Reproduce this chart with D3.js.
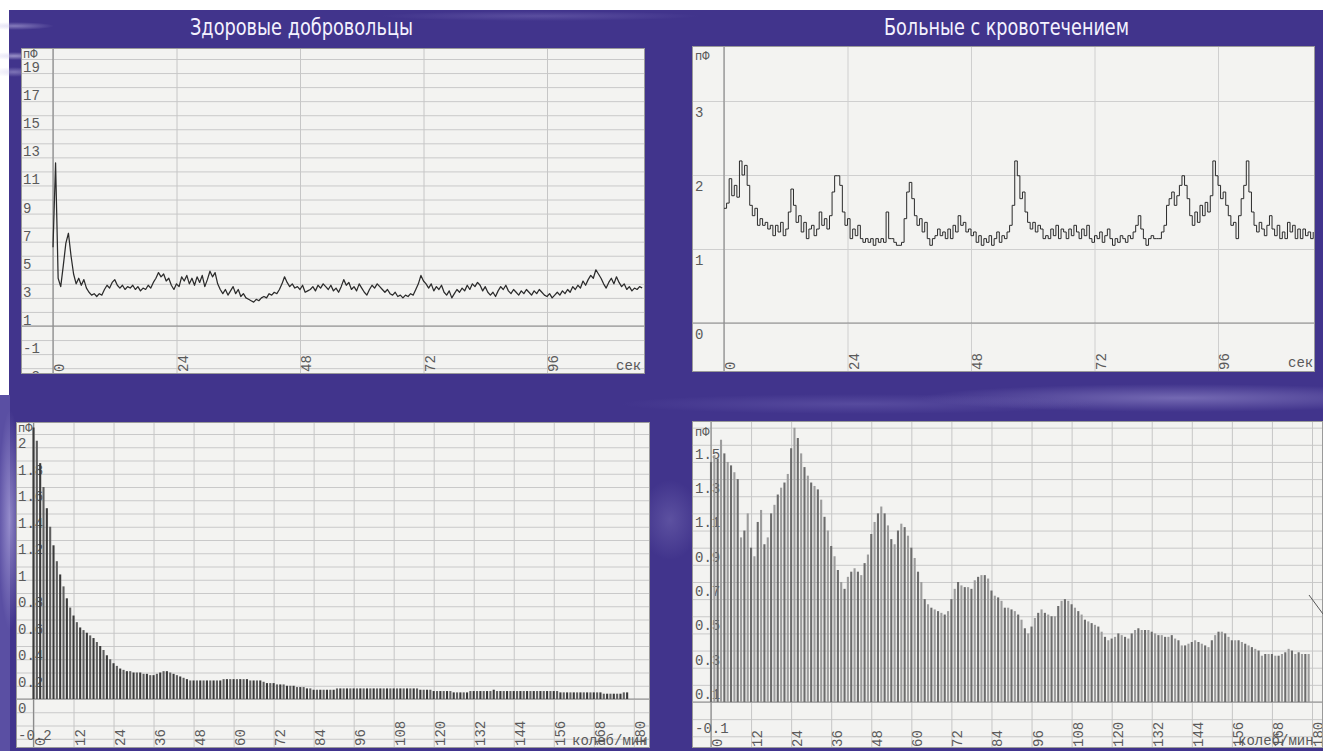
<!DOCTYPE html>
<html><head><meta charset="utf-8">
<script src="https://cdn.jsdelivr.net/npm/d3@7"></script>
<style>body{margin:0;background:#fff;overflow:hidden}svg{display:block}</style>
</head><body><svg id="c" width="1323" height="751"></svg>
<script>
// ---------------- DATA ----------------
const titles = ["Здоровые добровольцы", "Больные с кровотечением"];
const timeUnit = "сек";
const freqUnit = "колеб/мин";
const yUnit = "пФ";
const timeTicks = [0, 24, 48, 72, 96];
const freqTicks = [0, 12, 24, 36, 48, 60, 72, 84, 96, 108, 120, 132, 144, 156, 168, 180];
const healthyTraceTicks = [19, 17, 15, 13, 11, 9, 7, 5, 3, 1, -1, -3];
const patientTraceTicks = [3, 2, 1, 0];
const healthySpecTicks = [2, 1.8, 1.6, 1.4, 1.2, 1, 0.8, 0.6, 0.4, 0.2, 0, -0.2];
const patientSpecTicks = [1.5, 1.3, 1.1, 0.9, 0.7, 0.5, 0.3, 0.1, -0.1];

// time series, one value every 0.5 s
const traceStep = 0.5;
const healthyTrace = [
 5.6,11.6,3.4,2.8,4.3,5.9,6.6,5.0,3.7,3.0,
 3.4,2.9,3.3,2.7,2.4,2.2,2.3,2.1,2.3,2.2,
 2.6,2.9,2.7,3.1,3.3,2.9,2.7,2.9,2.6,2.8,
 2.7,2.9,2.6,2.8,2.5,2.7,2.6,2.9,2.7,3.1,
 3.4,3.8,3.5,3.7,3.2,3.4,2.9,2.6,3.0,2.8,
 3.5,3.2,3.6,3.0,3.4,2.9,3.5,3.1,3.6,2.8,
 3.3,3.9,3.5,3.8,3.0,2.6,2.3,2.6,2.2,2.5,
 2.8,2.3,2.6,2.1,2.3,2.0,1.9,1.8,1.7,1.9,
 1.8,2.0,2.1,2.0,2.3,2.2,2.4,2.3,2.6,3.0,
 3.5,3.1,2.8,3.0,2.7,2.8,2.6,2.9,2.4,2.5,
 2.6,2.8,2.5,2.9,2.7,3.0,2.8,2.6,2.9,2.5,
 2.7,2.4,2.8,3.3,2.9,3.1,2.6,2.8,2.5,3.0,
 2.7,2.4,2.2,2.6,2.9,2.7,3.0,2.8,2.6,2.4,
 2.6,2.3,2.2,2.4,2.1,2.2,2.0,2.2,2.1,2.3,
 2.2,2.6,3.0,3.6,3.2,3.0,2.7,3.0,2.5,2.8,
 2.6,2.9,2.4,2.2,2.5,2.0,2.3,2.6,2.4,2.7,
 2.5,2.9,2.6,3.0,2.8,3.1,2.9,2.5,2.8,2.4,
 2.2,2.4,2.1,2.5,2.8,2.6,2.9,2.5,2.3,2.6,
 2.4,2.2,2.5,2.3,2.6,2.4,2.2,2.5,2.3,2.6,
 2.4,2.2,2.1,2.3,2.0,2.2,2.4,2.2,2.5,2.3,
 2.6,2.4,2.8,2.6,2.9,2.7,3.2,2.9,3.3,3.6,
 3.4,4.0,3.7,3.4,3.0,2.7,3.1,3.4,3.0,3.5,
 3.1,2.8,3.0,2.6,2.8,2.5,2.7,2.6,2.8,2.7
];
const patientTrace = [
 1.55,1.62,1.95,1.72,1.86,1.70,2.19,2.00,2.13,1.86,
 1.59,1.45,1.55,1.32,1.41,1.32,1.36,1.27,1.32,1.18,
 1.32,1.23,1.36,1.18,1.27,1.50,1.81,1.59,1.36,1.45,
 1.23,1.36,1.14,1.27,1.32,1.18,1.27,1.50,1.32,1.41,
 1.27,1.45,1.77,1.99,1.99,1.86,1.50,1.32,1.41,1.14,
 1.27,1.18,1.32,1.14,1.09,1.14,1.09,1.14,1.05,1.14,
 1.09,1.14,1.09,1.50,1.14,1.14,1.09,1.05,1.05,1.09,
 1.41,1.77,1.90,1.68,1.45,1.32,1.41,1.23,1.36,1.14,
 1.05,1.14,1.18,1.27,1.18,1.23,1.14,1.27,1.14,1.32,
 1.23,1.45,1.32,1.36,1.23,1.27,1.18,1.23,1.09,1.18,
 1.05,1.14,1.09,1.18,1.05,1.14,1.23,1.09,1.18,1.14,
 1.23,1.32,1.59,2.19,1.99,1.68,1.77,1.50,1.36,1.27,
 1.36,1.23,1.32,1.27,1.14,1.18,1.14,1.27,1.18,1.32,
 1.14,1.27,1.23,1.14,1.27,1.18,1.32,1.23,1.14,1.27,
 1.18,1.32,1.14,1.09,1.18,1.14,1.23,1.09,1.18,1.27,
 1.14,1.05,1.14,1.09,1.18,1.14,1.09,1.18,1.14,1.23,
 1.32,1.45,1.27,1.14,1.05,1.14,1.18,1.14,1.14,1.14,
 1.23,1.32,1.59,1.68,1.77,1.59,1.72,1.86,1.99,1.86,
 1.68,1.45,1.32,1.50,1.36,1.59,1.45,1.63,1.50,1.72,
 2.19,1.99,1.86,1.68,1.77,1.59,1.45,1.32,1.36,1.14,
 1.45,1.68,1.86,2.19,1.77,1.50,1.32,1.23,1.36,1.27,
 1.18,1.32,1.45,1.27,1.18,1.32,1.14,1.23,1.14,1.36,
 1.23,1.32,1.14,1.27,1.14,1.27,1.18,1.23,1.14,1.23
];

// spectra, one value per 1 колеб/мин
const specStep = 1;
const healthySpectrum = [
 2.05,1.95,1.78,1.60,1.44,1.30,1.16,1.04,0.94,0.85,
 0.76,0.69,0.63,0.58,0.54,0.52,0.50,0.48,0.46,0.43,
 0.40,0.37,0.33,0.30,0.27,0.25,0.23,0.22,0.21,0.21,
 0.20,0.20,0.20,0.19,0.19,0.18,0.18,0.19,0.20,0.21,
 0.21,0.20,0.19,0.18,0.17,0.16,0.15,0.14,0.14,0.14,
 0.14,0.14,0.14,0.14,0.14,0.14,0.14,0.15,0.15,0.15,
 0.15,0.15,0.15,0.15,0.15,0.14,0.14,0.14,0.14,0.13,
 0.12,0.12,0.12,0.11,0.11,0.11,0.10,0.10,0.10,0.09,
 0.09,0.09,0.08,0.08,0.07,0.07,0.07,0.07,0.07,0.07,
 0.07,0.08,0.08,0.08,0.08,0.08,0.08,0.08,0.08,0.08,
 0.08,0.08,0.08,0.08,0.08,0.08,0.08,0.08,0.08,0.08,
 0.08,0.08,0.08,0.08,0.08,0.08,0.07,0.07,0.07,0.07,
 0.06,0.06,0.06,0.06,0.06,0.06,0.05,0.05,0.05,0.05,
 0.05,0.06,0.06,0.06,0.06,0.06,0.06,0.06,0.07,0.06,
 0.06,0.06,0.06,0.06,0.06,0.06,0.06,0.06,0.06,0.06,
 0.06,0.06,0.06,0.06,0.06,0.06,0.06,0.06,0.05,0.05,
 0.05,0.05,0.05,0.05,0.05,0.05,0.05,0.05,0.05,0.05,
 0.05,0.04,0.04,0.04,0.04,0.04,0.04,0.05,0.05
];
const patientSpectrum = [
 1.40,1.44,1.42,1.53,1.45,1.40,1.38,1.34,1.30,0.96,
 1.00,1.10,0.90,0.85,1.05,1.12,0.92,0.96,1.10,1.15,
 1.21,1.25,1.28,1.33,1.48,1.60,1.54,1.45,1.37,1.32,
 1.28,1.26,1.24,1.18,1.08,1.00,0.91,0.85,0.77,0.70,
 0.66,0.73,0.76,0.78,0.76,0.74,0.81,0.86,0.98,1.05,
 1.10,1.14,1.10,1.03,0.95,0.92,1.00,1.04,1.02,0.97,
 0.90,0.84,0.76,0.70,0.60,0.57,0.55,0.54,0.53,0.52,
 0.51,0.53,0.60,0.66,0.70,0.68,0.67,0.67,0.66,0.71,
 0.73,0.74,0.74,0.72,0.65,0.62,0.61,0.59,0.55,0.55,
 0.54,0.53,0.51,0.48,0.43,0.40,0.44,0.49,0.52,0.54,
 0.52,0.51,0.50,0.50,0.56,0.59,0.60,0.59,0.57,0.55,
 0.53,0.51,0.48,0.47,0.46,0.45,0.44,0.41,0.38,0.36,
 0.37,0.38,0.40,0.39,0.38,0.37,0.40,0.42,0.43,0.42,
 0.42,0.42,0.41,0.40,0.39,0.39,0.38,0.38,0.39,0.37,
 0.36,0.33,0.33,0.34,0.35,0.36,0.35,0.34,0.33,0.32,
 0.36,0.39,0.41,0.41,0.40,0.38,0.36,0.36,0.36,0.35,
 0.34,0.33,0.32,0.31,0.30,0.27,0.28,0.28,0.28,0.27,
 0.27,0.28,0.29,0.31,0.30,0.28,0.29,0.28,0.28,0.28
];

// ---------------- DRAWING ----------------
const W = 1323, H = 751;
const svg = d3.select("#c");
const defs = svg.append("defs");
const MONO = "'Liberation Mono','DejaVu Sans Mono',monospace";

svg.append("rect").attr("width", W).attr("height", H).attr("fill", "#ffffff");
svg.append("rect").attr("x", 9).attr("y", 10).attr("width", W - 9).attr("height", H - 10).attr("fill", "#41348c");
svg.append("rect").attr("x", 0).attr("y", 395).attr("width", 10).attr("height", H - 395).attr("fill", "#5a4fa3");

// soft decorative streaks of the slide background
function glow(id, cx, cy, rx, ry, color, op) {
  const rg = defs.append("radialGradient").attr("id", id);
  rg.append("stop").attr("offset", 0).attr("stop-color", color).attr("stop-opacity", op);
  rg.append("stop").attr("offset", 1).attr("stop-color", color).attr("stop-opacity", 0);
  svg.append("ellipse").attr("cx", cx).attr("cy", cy).attr("rx", rx).attr("ry", ry).attr("fill", `url(#${id})`);
}
glow("s1", 14, 26, 40, 4, "#c8c2ea", 0.5);
glow("s2", 14, 56, 30, 4, "#d3ceef", 0.6);
glow("s3", 14, 72, 25, 5, "#c8c2ea", 0.45);
glow("s4", 1180, 398, 260, 14, "#9d94d2", 0.55);
glow("s5", 860, 404, 240, 10, "#7f75c0", 0.35);
glow("s6", 10, 520, 12, 110, "#b0a8de", 0.7);
glow("s7", 670, 520, 30, 40, "#8f86c6", 0.35);
glow("s8", 540, 16, 160, 5, "#8a80c4", 0.35);

// titles
const TITLE_FONT = "'Liberation Sans Narrow','DejaVu Sans Condensed','Liberation Sans',sans-serif";
svg.append("text").attr("x", 190).attr("y", 35).text(titles[0])
  .attr("fill", "#f4f2ff").attr("font-family", TITLE_FONT)
  .attr("font-size", 23).attr("textLength", 223).attr("lengthAdjust", "spacingAndGlyphs");
svg.append("text").attr("x", 884).attr("y", 35).text(titles[1])
  .attr("fill", "#f4f2ff").attr("font-family", TITLE_FONT)
  .attr("font-size", 23).attr("textLength", 245).attr("lengthAdjust", "spacingAndGlyphs");

let clipN = 0;
function panel(o) {
  const [x0, y0, x1, y1] = o.box;
  const id = "clip" + (clipN++);
  defs.append("clipPath").attr("id", id).append("rect")
    .attr("x", x0).attr("y", y0).attr("width", x1 - x0).attr("height", y1 - y0);
  const g = svg.append("g").attr("clip-path", `url(#${id})`);
  g.append("rect").attr("x", x0).attr("y", y0).attr("width", x1 - x0).attr("height", y1 - y0)
    .attr("fill", "#f3f3f1");

  // horizontal grid
  g.append("g").attr("transform", `translate(${x0},0)`)
    .call(d3.axisRight(o.y).tickValues(o.hGrid).tickSize(x1 - x0).tickFormat(""))
    .call(a => a.select(".domain").remove())
    .selectAll("line").attr("stroke", o.gridColor || "#c9c9c9").attr("stroke-width", 1);
  // vertical grid
  g.append("g").attr("transform", `translate(0,${y0})`)
    .call(d3.axisBottom(o.x).tickValues(o.xTicks).tickSize(y1 - y0).tickFormat(""))
    .call(a => a.select(".domain").remove())
    .selectAll("line").attr("stroke", o.gridColor || "#c6c6c6").attr("stroke-width", 1);
  // zero line and y axis line
  g.append("line").attr("x1", x0).attr("x2", x1).attr("y1", o.y(0)).attr("y2", o.y(0))
    .attr("stroke", "#8c8c8c").attr("stroke-width", 1.2);
  g.append("line").attr("x1", o.x(0)).attr("x2", o.x(0)).attr("y1", y0).attr("y2", y1)
    .attr("stroke", "#8c8c8c").attr("stroke-width", 1.2);

  // y labels (top of text sits just under its grid line)
  g.append("g").selectAll("text").data(o.yTicks).join("text")
    .attr("x", o.labelX).attr("y", d => o.y(d) + o.labelDy)
    .text(d => String(d)).attr("font-family", MONO).attr("font-size", 14).attr("fill", "#5a5a5a");
  g.append("text").attr("x", o.labelX).attr("y", o.unitY).text(yUnit)
    .attr("font-family", MONO).attr("font-size", 12).attr("fill", "#5a5a5a");

  // x labels, rotated
  g.append("g").selectAll("text").data(o.xTicks).join("text")
    .attr("transform", d => `translate(${o.x(d) + 11},${o.xLabelBottom}) rotate(-90)`)
    .text(d => String(d)).attr("font-family", MONO).attr("font-size", 14).attr("fill", "#5a5a5a");
  g.append("text").attr("x", o.xUnitX).attr("y", o.xUnitY).text(o.xUnit)
    .attr("font-family", MONO).attr("font-size", 14).attr("fill", "#5a5a5a");

  // data
  if (o.type === "line") {
    const line = d3.line().x((d, i) => o.x(i * o.step)).y(d => o.y(d));
    if (o.curve) line.curve(o.curve);
    g.append("path").datum(o.data).attr("d", line)
      .attr("fill", "none").attr("stroke", "#2b2b2b").attr("stroke-width", o.lineWidth || 1.1).attr("stroke-linejoin", "round");
  } else {
    g.append("g").selectAll("line").data(o.data).join("line")
      .attr("x1", (d, i) => o.x(i * o.step)).attr("x2", (d, i) => o.x(i * o.step))
      .attr("y1", o.y(0)).attr("y2", d => o.y(d))
      .attr("stroke", (d, i) => i % 2 ? o.barColor2 : o.barColor).attr("stroke-width", o.barWidth);
  }
  // faint scan border
  g.append("rect").attr("x", x0 + 0.5).attr("y", y0 + 0.5).attr("width", x1 - x0 - 1).attr("height", y1 - y0 - 1)
    .attr("fill", "none").attr("stroke", "#9a9a9a").attr("stroke-width", 1);
  return g;
}

// top-left: healthy, time trace
panel({
  box: [21, 48, 645, 374],
  x: d3.scaleLinear().domain([0, 96]).range([53, 547]),
  y: d3.scaleLinear().domain([0, 19]).range([326, 59]),
  hGrid: d3.range(-3, 20), xTicks: timeTicks, yTicks: healthyTraceTicks,
  labelX: 23, labelDy: 13, unitY: 58, xLabelBottom: 372,
  xUnit: timeUnit, xUnitX: 616, xUnitY: 370,
  type: "line", data: healthyTrace, step: traceStep, lineWidth: 1.25
});
// top-right: patients, time trace
panel({
  box: [692, 46, 1315, 372],
  x: d3.scaleLinear().domain([0, 96]).range([724, 1218]),
  y: d3.scaleLinear().domain([0, 3]).range([323, 101]),
  hGrid: patientTraceTicks, xTicks: timeTicks, yTicks: patientTraceTicks,
  labelX: 695, labelDy: 16, unitY: 60, xLabelBottom: 370, gridColor: "#cfcfcf",
  xUnit: timeUnit, xUnitX: 1288, xUnitY: 367,
  type: "line", data: patientTrace, step: traceStep, curve: d3.curveStepAfter, lineWidth: 1
});
// bottom-left: healthy spectrum
panel({
  box: [16, 422, 650, 748],
  x: d3.scaleLinear().domain([0, 180]).range([33.5, 633.8]),
  y: d3.scaleLinear().domain([0, 2]).range([699, 434]),
  hGrid: d3.range(-3, 21).map(v => v / 10), xTicks: freqTicks, yTicks: healthySpecTicks,
  labelX: 18, labelDy: 14, unitY: 432, xLabelBottom: 746,
  xUnit: freqUnit, xUnitX: 572, xUnitY: 745,
  type: "bars", data: healthySpectrum, step: specStep, barColor: "#3a3a3a", barColor2: "#5e5e5e", barWidth: 2.1
});
// bottom-right: patients spectrum
const p4 = panel({
  box: [692, 421, 1323, 748],
  x: d3.scaleLinear().domain([0, 180]).range([711, 1312]),
  y: d3.scaleLinear().domain([0, 1.5]).range([702, 444.8]),
  hGrid: d3.range(-2, 17).map(v => v / 10), xTicks: freqTicks, yTicks: patientSpecTicks,
  labelX: 695, labelDy: 14, unitY: 436, xLabelBottom: 747,
  xUnit: freqUnit, xUnitX: 1238, xUnitY: 745,
  type: "bars", data: patientSpectrum, step: specStep, barColor: "#6c6c6c", barColor2: "#9c9c9c", barWidth: 2.1
});
// stray pen stroke at the right edge of the scanned sheet
p4.append("line").attr("x1", 1309).attr("y1", 595).attr("x2", 1323).attr("y2", 614)
  .attr("stroke", "#555").attr("stroke-width", 1);
</script></body></html>
